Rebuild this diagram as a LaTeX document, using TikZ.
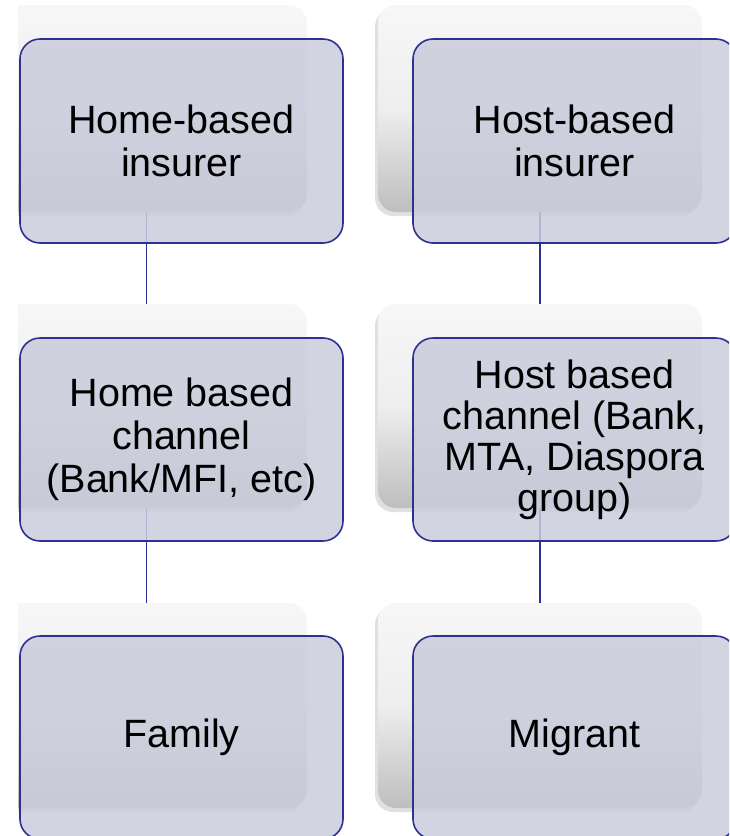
\documentclass[tikz,border=0pt]{standalone}
\usepackage{fontspec}
\setmainfont{Liberation Sans}
\usetikzlibrary{shadows}
\definecolor{frontfill}{RGB}{203,204,220}
\definecolor{edgeblue}{RGB}{46,49,146}
\definecolor{bgtop}{RGB}{247,247,247}
\definecolor{bgmid}{RGB}{238,238,238}
\definecolor{bgbot}{RGB}{190,190,190}
\tikzset{
  backbox/.style={rounded corners=18pt, inner sep=0pt, top color=bgtop, bottom color=bgbot, middle color=bgmid,
    draw=none, drop shadow={shadow xshift=-3pt, shadow yshift=-4pt, opacity=0.2, fill=black!60}},
  frontbox/.style={rounded corners=20pt, inner sep=0pt, draw=edgeblue, line width=1.6pt,
    fill=frontfill, fill opacity=0.85, text opacity=1, align=center,
    font=\fontsize{39.5}{43}\selectfont, text=black},
  link/.style={draw=edgeblue, line width=1.9pt}
}
\begin{document}
\begin{tikzpicture}[x=1pt,y=-1pt]
\useasboundingbox (0,0) rectangle (729,836);
\begin{scope}
\clip (18,0) rectangle (729,836);
% back boxes
\node[backbox, minimum width=321pt, minimum height=207pt] (bl1) at (146.5,108.5) {};
\node[backbox, minimum width=324pt, minimum height=207pt] (br1) at (540,108.5) {};
\node[backbox, minimum width=321pt, minimum height=204pt] (bl2) at (146.5,406) {};
\node[backbox, minimum width=324pt, minimum height=204pt] (br2) at (540,406) {};
\node[backbox, minimum width=321pt, minimum height=205pt] (bl3) at (146.5,705.5) {};
\node[backbox, minimum width=324pt, minimum height=205pt] (br3) at (540,705.5) {};
% connectors
\draw[link] (bl1.south) -- (bl2.north);
\draw[link] (bl2.south) -- (bl3.north);
\draw[link] (br1.south) -- (br2.north);
\draw[link] (br2.south) -- (br3.north);
% front boxes
\node[frontbox, minimum width=323pt, minimum height=204pt] (fl1) at (181.5,141) {Home-based\\insurer};
\node[frontbox, minimum width=323pt, minimum height=204pt] (fr1) at (574.5,141) {Host-based\\insurer};
\node[frontbox, minimum width=323pt, minimum height=203pt] (fl2) at (181.5,439.5) {Home based\\channel\\(Bank/MFI, etc)};
\node[frontbox, minimum width=323pt, minimum height=203pt, font=\fontsize{39.5}{41}\selectfont] (fr2) at (574.5,439.5) {Host based\\channel (Bank,\\MTA, Diaspora\\group)};
\node[frontbox, minimum width=323pt, minimum height=203pt] (fl3) at (181.5,737.5) {Family};
\node[frontbox, minimum width=323pt, minimum height=203pt] (fr3) at (574.5,737.5) {Migrant};
\end{scope}
\end{tikzpicture}
\end{document}
